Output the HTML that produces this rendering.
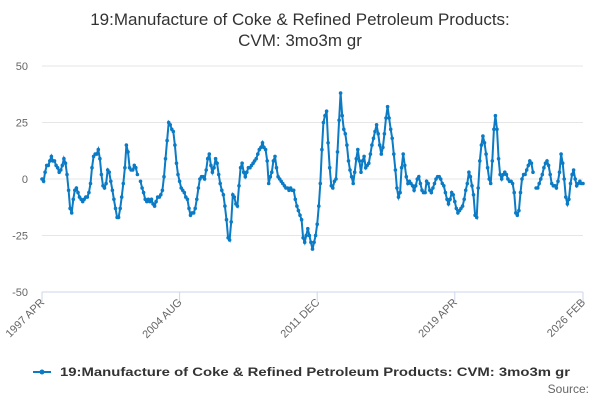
<!DOCTYPE html>
<html><head><meta charset="utf-8"><style>
body{margin:0;background:#fff;font-family:"Liberation Sans",sans-serif;}
svg text{font-family:"Liberation Sans",sans-serif;}
</style></head><body>
<svg id="chart" width="600" height="400" viewBox="0 0 600 400">
<text x="300" y="25" text-anchor="middle" font-size="17" fill="#333">19:Manufacture of Coke &amp; Refined Petroleum Products:</text>
<text x="300" y="46" text-anchor="middle" font-size="17" fill="#333">CVM: 3mo3m gr</text>
<g id="grid"></g>
<g id="yaxis"></g>
<g id="xaxis"></g>
<g id="series"></g>
<g>
<line x1="33" y1="372" x2="51" y2="372" stroke="#0a7bc4" stroke-width="2"/>
<circle cx="42" cy="372" r="2.5" fill="#0a7bc4"/>
<text x="60" y="376" font-size="12" font-weight="bold" fill="#333" textLength="510" lengthAdjust="spacingAndGlyphs">19:Manufacture of Coke &amp; Refined Petroleum Products: CVM: 3mo3m gr</text>
</g>
<text x="589" y="393" text-anchor="end" font-size="12" fill="#666">Source:</text>
</svg>
<script>
const yTicks=[50,25,0,-25,-50];
const xTickLabels=["1997 APR","2004 AUG","2011 DEC","2019 APR","2026 FEB"];
const xTickMonths=[0,88,176,264,346];
const values=[0,-1,3,6,6,8,10,8,8,6,5,3,4,6,9,7,2,-5,-13,-15,-9,-5,-4,-6,-8,-9,-10,-9,-8,-8,-6,-2,5,10,11,11,13,9,2,-3,-4,-2,4,3,-1,-5,-9,-13,-17,
-17,-13,-8,-2,5,15,12,5,4,4,6,5,2,null,-1,-4,-6,-9,-10,-9,-10,-9,-11,-12,-10,-8,-8,-7,-5,1,9,17,25,24,22,21,15,7,2,-1,-4,-5,-6,-8,-9,-13,-16,-15,
-15,-13,-9,-4,0,1,1,0,4,9,11,6,3,5,9,7,2,-2,-5,-7,-12,-18,-26,-27,-19,-7,-8,-11,-12,-3,5,7,3,1,3,5,5,6,7,8,9,11,13,14,16,14,13,8,-2,1,
3,8,10,5,1,0,-1,-2,-3,-4,-4,-5,-4,-5,-5,-9,-12,-14,-16,-18,-26,-28,-25,-22,-25,-28,-31,-28,-25,-20,-12,-2,13,25,28,30,16,5,-3,-4,-1,0,12,26,38,28,22,20,15,8,
4,1,-2,3,9,13,8,3,8,10,5,6,7,11,15,18,21,24,20,15,11,14,20,27,32,27,22,18,11,4,-4,-8,-6,5,11,6,1,-2,-1,-2,-3,-5,-3,0,1,-2,-5,-6,-6,
-1,-2,-5,-6,-4,-2,0,1,1,0,-2,-3,-6,-9,-11,-9,-6,-7,-10,-13,-15,-14,-13,-12,-9,-5,-2,3,1,-3,-7,-16,-17,-4,8,15,19,16,11,5,0,-2,8,22,28,22,9,2,
0,2,3,2,0,-1,-1,-2,-6,-15,-16,-14,-6,0,2,2,4,6,8,7,3,null,-4,-4,-2,0,2,5,7,8,6,2,-2,-3,-3,-4,-1,3,11,7,0,-8,-11,-9,-2,2,4,0,-3,-2,-1,-2,-2];
const X0=42,X1=583,Y0=179,PX=2.26;
const ns="http://www.w3.org/2000/svg";
function xs(i){return X0+(X1-X0)*i/(values.length-1);}
function ys(v){return Y0-v*PX;}
const grid=document.getElementById('grid'),ya=document.getElementById('yaxis'),xa=document.getElementById('xaxis'),se=document.getElementById('series');
yTicks.forEach(t=>{
 const l=document.createElementNS(ns,'line');
 
 
 l.setAttribute('x1',X0);l.setAttribute('x2',X1);l.setAttribute('y1',ys(t));l.setAttribute('y2',ys(t));
 l.setAttribute('stroke',t===-50?'#ccd6eb':'#e6e6e6');l.setAttribute('stroke-width',1);
 grid.appendChild(l);
 const tx=document.createElementNS(ns,'text');
 
 
 tx.setAttribute('x',28);tx.setAttribute('y',ys(t)+4);tx.setAttribute('text-anchor','end');
 tx.setAttribute('font-size','11');tx.setAttribute('fill','#666');tx.textContent=t;
 ya.appendChild(tx);
});
xTickLabels.forEach((lab,k)=>{
 const x=xs(xTickMonths[k]);
 const tk=document.createElementNS(ns,'line');
 
 
 tk.setAttribute('x1',x);tk.setAttribute('x2',x);tk.setAttribute('y1',292);tk.setAttribute('y2',302);
 tk.setAttribute('stroke','#ccd6eb');xa.appendChild(tk);
 const tx=document.createElementNS(ns,'text');
 
 
 tx.setAttribute('x',x+3);tx.setAttribute('y',303);tx.setAttribute('text-anchor','end');
 tx.setAttribute('font-size','11');tx.setAttribute('fill','#666');
 tx.setAttribute('transform','rotate(-45 '+(x+3)+' 303)');tx.textContent=lab;
 xa.appendChild(tx);
});
let d='',pen=false;
values.forEach((v,i)=>{
 if(v===null){pen=false;return;}
 d+=(pen?'L':'M')+xs(i).toFixed(1)+' '+ys(v).toFixed(1);pen=true;
});
const p=document.createElementNS(ns,'path');


p.setAttribute('d',d);p.setAttribute('fill','none');p.setAttribute('stroke','#0a7bc4');p.setAttribute('stroke-width','2');
se.appendChild(p);
values.forEach((v,i)=>{
 if(v===null)return;
 const c=document.createElementNS(ns,'circle');
 
 
 c.setAttribute('cx',xs(i).toFixed(1));c.setAttribute('cy',ys(v).toFixed(1));c.setAttribute('r','1.8');c.setAttribute('fill','#0a7bc4');
 se.appendChild(c);
});
</script>
</body></html>
